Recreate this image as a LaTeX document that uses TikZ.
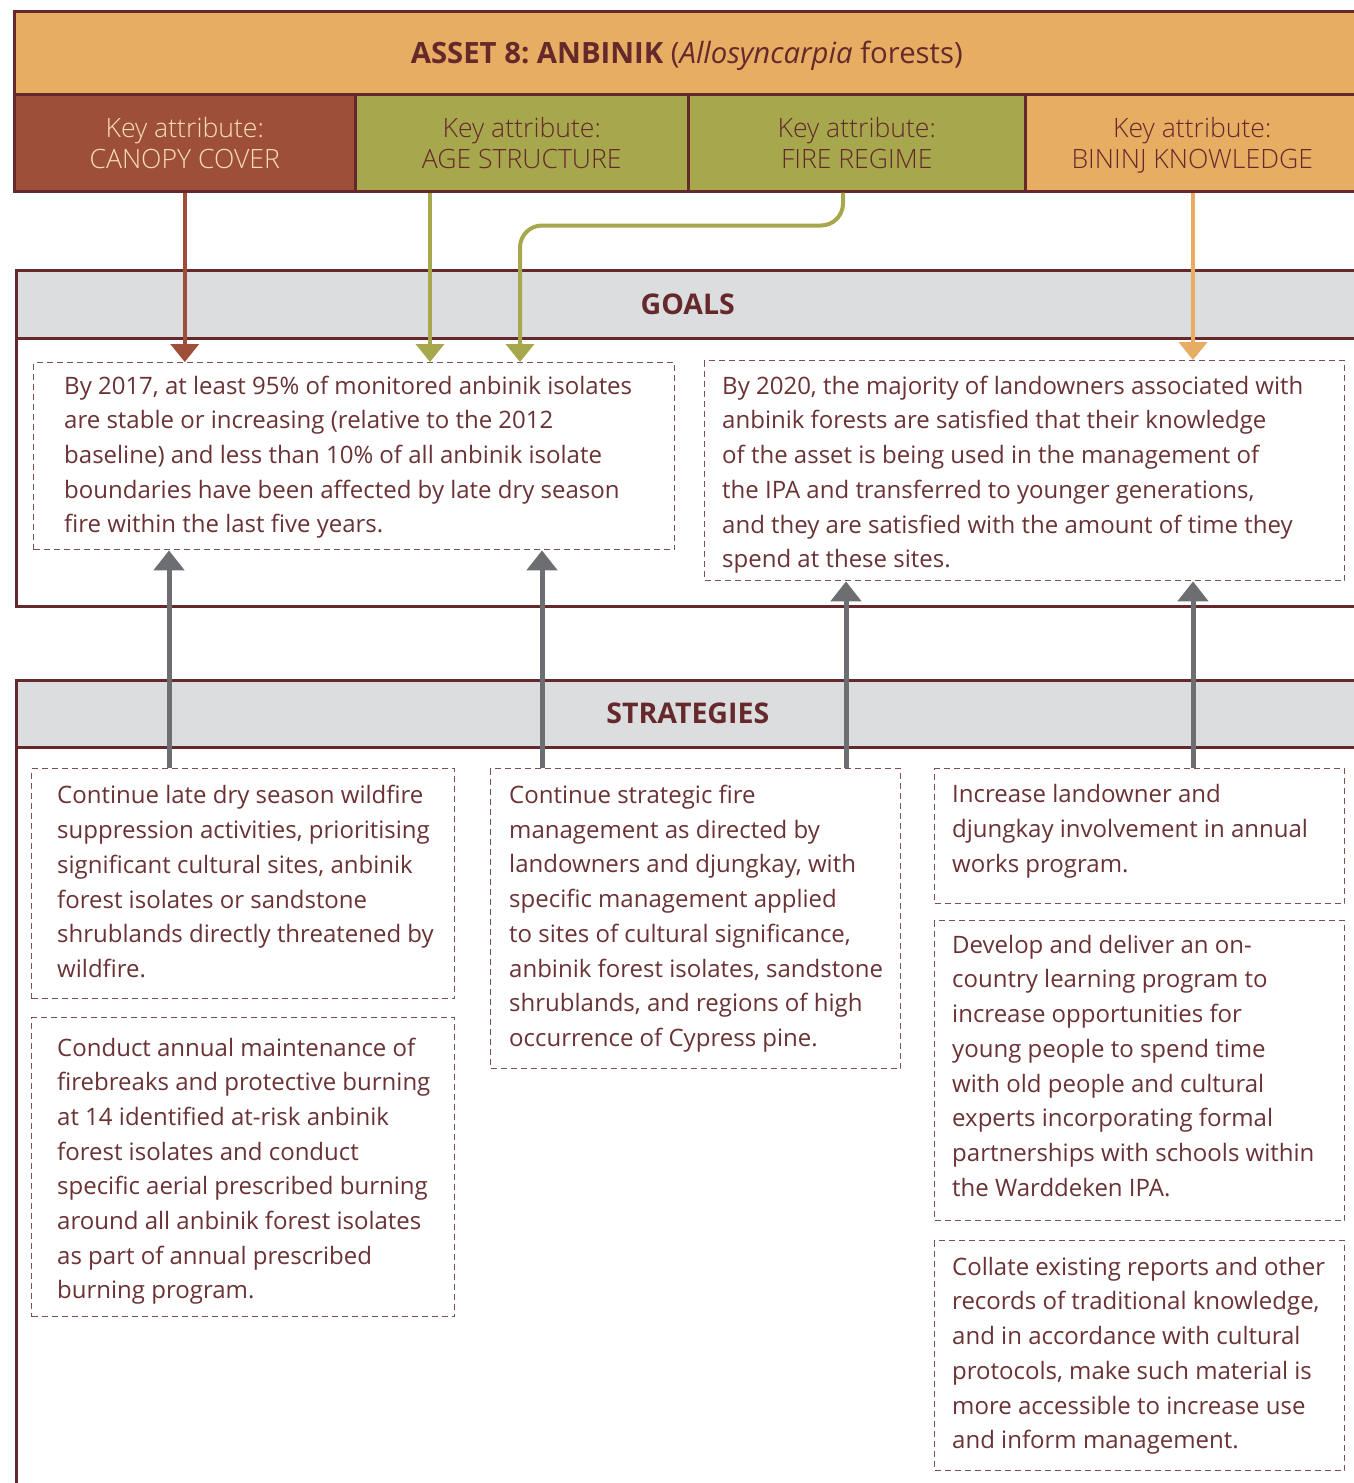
\documentclass[tikz,border=0pt]{standalone}
\usepackage{fontspec}
\setmainfont{Open Sans}
\IfFontExistsTF{Open Sans Light}{\newfontfamily\attrfont{Open Sans Light}}{\newfontfamily\attrfont{Open Sans}}
\IfFontExistsTF{Open Sans SemiBold}{\newfontfamily\semifont{Open Sans SemiBold}}{\newcommand\semifont{\bfseries}}
\usetikzlibrary{arrows.meta}
\definecolor{borange}{HTML}{E6AD63}
\definecolor{bred}{HTML}{9E4F39}
\definecolor{bolive}{HTML}{A7A84E}
\definecolor{bmaroon}{HTML}{66292B}
\definecolor{bgray}{HTML}{DCDDDF}
\definecolor{barrow}{HTML}{6D6E71}
\definecolor{btext}{HTML}{6A3234}
\definecolor{bdash}{HTML}{7D5052}
\definecolor{bcream}{HTML}{F6DDB9}
\frenchspacing
\begin{document}
\begin{tikzpicture}[x=1pt,y=-1pt,
  cell/.style={draw=bmaroon,line width=2.5pt,anchor=north west,inner sep=0pt,minimum height=97pt,
    align=center,text=bmaroon,text depth=0pt,font=\attrfont\fontsize{26.6}{31}\selectfont},
  section/.style={draw=bmaroon,line width=2.5pt,anchor=north west,inner sep=0pt},
  band/.style={section,fill=bgray,text=bmaroon,font=\semifont\fontsize{28.5}{34}\selectfont},
  dbox/.style={draw=bdash,line width=1.4pt,dash pattern=on 6pt off 4pt,anchor=north west,inner sep=0pt},
  btxt/.style={anchor=west,align=left,text=btext,inner sep=0pt,font=\fontsize{24}{34.7}\selectfont},
  carrow/.style={line width=4pt,-{Triangle[width=28pt,length=18pt]}},
  garrow/.style={draw=barrow,line width=5pt,-{Triangle[width=30pt,length=20pt]}},
]
\useasboundingbox (0,0) rectangle (1354,1483);
\clip (0,0) rectangle (1354,1483);

% title and key attributes
\node[cell,fill=borange,minimum width=1345pt,minimum height=83pt,text=bmaroon,
  text height=21pt,text depth=0pt,font=\fontsize{29.3}{35}\selectfont] (title) at (13,10)
  {{\semifont ASSET 8: ANBINIK} (\textit{Allosyncarpia} forests)};
\node[cell,fill=bred,minimum width=341pt,text=bcream] (canopy) at (13,93) {Key attribute:\\CANOPY COVER};
\node[cell,fill=bolive,minimum width=333pt] (age) at (354,93) {Key attribute:\\AGE STRUCTURE};
\node[cell,fill=bolive,minimum width=337pt] (fire) at (687,93) {Key attribute:\\FIRE REGIME};
\node[cell,fill=borange,minimum width=334pt] (bininj) at (1024,93) {Key attribute:\\BININJ KNOWLEDGE};

% sections
\node[section,minimum width=1343pt,minimum height=336pt] (goalsec) at (15,269) {};
\node[band,minimum width=1343pt,minimum height=68pt] (goals) at (15,269) {GOALS};
\node[section,minimum width=1343pt,minimum height=830pt] (stratsec) at (15,679) {};
\node[band,minimum width=1343pt,minimum height=67pt] (strats) at (15,679) {STRATEGIES};

% goal boxes
\node[dbox,minimum width=641pt,minimum height=187pt] (g1) at (33,362) {};
\node[btxt] (g1t) at ([xshift=31pt,yshift=-1pt]g1.west)
  {By 2017, at least 95\% of monitored anbinik isolates\\
   are stable or increasing (relative to the 2012\\
   baseline) and less than 10\% of all anbinik isolate\\
   boundaries have been affected by late dry season\\
   fire within the last five years.};
\node[dbox,minimum width=640pt,minimum height=220pt] (g2) at (704,360) {};
\node[btxt] (g2t) at ([xshift=18pt,yshift=-4pt]g2.west)
  {By 2020, the majority of landowners associated with\\
   anbinik forests are satisfied that their knowledge\\
   of the asset is being used in the management of\\
   the IPA and transferred to younger generations,\\
   and they are satisfied with the amount of time they\\
   spend at these sites.};

% strategy boxes
\node[dbox,minimum width=423pt,minimum height=230pt] (s1) at (31,768) {};
\node[btxt] (s1t) at ([xshift=26pt,yshift=2pt]s1.west)
  {Continue late dry season wildfire\\
   suppression activities, prioritising\\
   significant cultural sites, anbinik\\
   forest isolates or sandstone\\
   shrublands directly threatened by\\
   wildfire.};
\node[dbox,minimum width=423pt,minimum height=299pt] (s2) at (31,1017) {};
\node[btxt] (s2t) at ([xshift=26pt,yshift=-4pt]s2.west)
  {Conduct annual maintenance of\\
   firebreaks and protective burning\\
   at 14 identified at-risk anbinik\\
   forest isolates and conduct\\
   specific aerial prescribed burning\\
   around all anbinik forest isolates\\
   as part of annual prescribed\\
   burning program.};
\node[dbox,minimum width=410pt,minimum height=300pt] (s3) at (490,768) {};
\node[btxt] (s3t) at ([xshift=19pt]s3.west)
  {Continue strategic fire\\
   management as directed by\\
   landowners and djungkay, with\\
   specific management applied\\
   to sites of cultural significance,\\
   anbinik forest isolates, sandstone\\
   shrublands, and regions of high\\
   occurrence of Cypress pine.};
\node[dbox,minimum width=410pt,minimum height=135pt] (s4) at (934,768) {};
\node[btxt] (s4t) at ([xshift=18pt,yshift=5pt]s4.west)
  {Increase landowner and\\
   djungkay involvement in annual\\
   works program.};
\node[dbox,minimum width=410pt,minimum height=300pt] (s5) at (934,920) {};
\node[btxt] (s5t) at ([xshift=18pt,yshift=5pt]s5.west)
  {Develop and deliver an on-\\
   country learning program to\\
   increase opportunities for\\
   young people to spend time\\
   with old people and cultural\\
   experts incorporating formal\\
   partnerships with schools within\\
   the Warddeken IPA.};
\node[dbox,minimum width=410pt,minimum height=230pt] (s6) at (934,1240) {};
\node[btxt] (s6t) at ([xshift=18pt]s6.west)
  {Collate existing reports and other\\
   records of traditional knowledge,\\
   and in accordance with cultural\\
   protocols, make such material is\\
   more accessible to increase use\\
   and inform management.};

% connector x positions
\coordinate (xa) at (430,0);
\coordinate (xf) at (843,0);
\coordinate (xg) at (520,0);
\coordinate (xb) at (1193,0);
\coordinate (x1) at (169,0);
\coordinate (x2) at (542,0);
\coordinate (x3) at (846,0);
\coordinate (x4) at (1193,0);

% attribute to goal arrows
\draw[carrow,draw=bred] (canopy.south) -- (g1.north -| canopy.south);
\draw[carrow,draw=bolive] (age.south -| xa) -- (g1.north -| xa);
\draw[carrow,draw=bolive,rounded corners=22pt] (fire.south -| xf) -- ++(0,33) -| (g1.north -| xg);
\draw[carrow,draw=borange] (bininj.south -| xb) -- (g2.north -| xb);

% strategy to goal arrows
\draw[garrow] (s1.north -| x1) -- (g1.south -| x1);
\draw[garrow] (s3.north -| x2) -- (g1.south -| x2);
\draw[garrow] (s3.north -| x3) -- (g2.south -| x3);
\draw[garrow] (s4.north -| x4) -- (g2.south -| x4);
\end{tikzpicture}
\end{document}
